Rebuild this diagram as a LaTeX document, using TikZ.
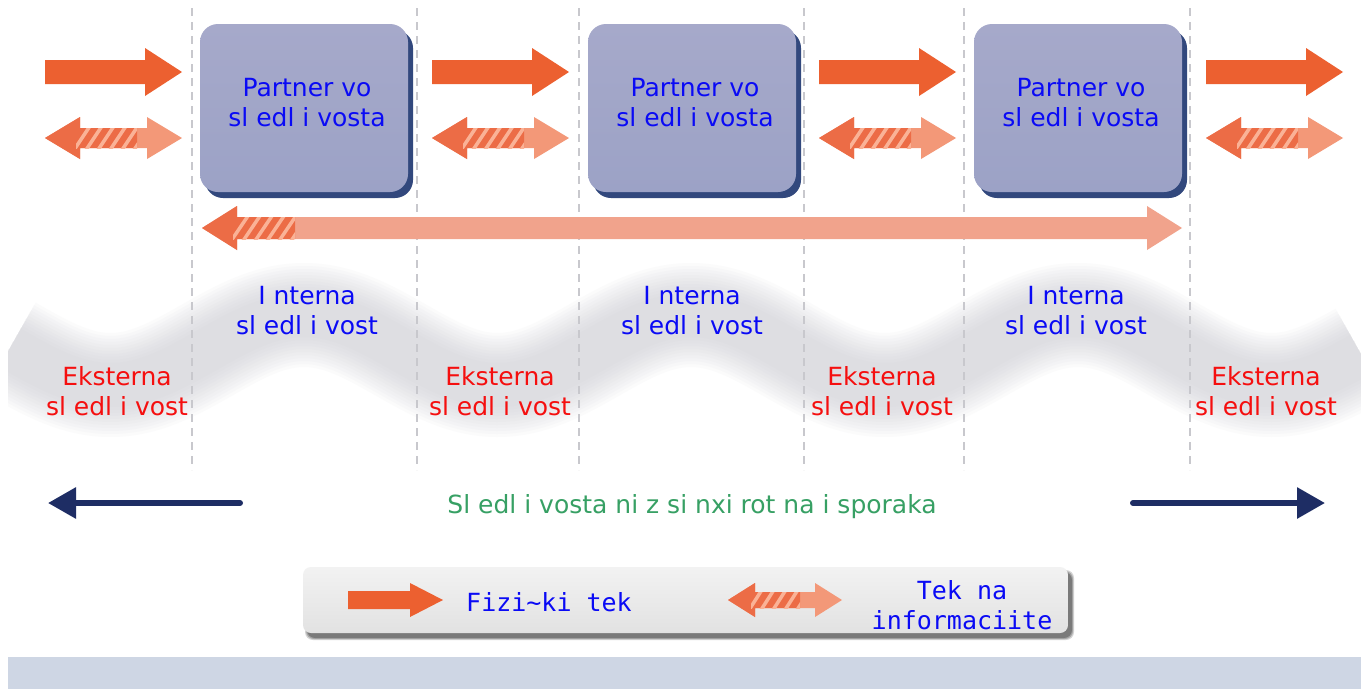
\documentclass[tikz,border=0pt]{standalone}
\usepackage{fontspec}
\setmainfont{DejaVu Sans}
\newfontfamily\legfont{DejaVu Sans Mono}
\usetikzlibrary{arrows.meta}
\definecolor{solidor}{RGB}{236,96,48}
\definecolor{infodark}{RGB}{236,108,70}
\definecolor{infolight}{RGB}{243,152,120}
\definecolor{longlight}{RGB}{241,163,140}
\definecolor{stripecol}{RGB}{250,178,150}
\definecolor{boxtop}{RGB}{166,169,202}
\definecolor{boxbot}{RGB}{156,162,198}
\definecolor{boxshadow}{RGB}{50,72,125}
\definecolor{bandcol}{RGB}{198,198,206}
\definecolor{divcol}{RGB}{200,200,205}
\definecolor{navyc}{RGB}{30,45,100}
\definecolor{txtblue}{RGB}{10,10,245}
\definecolor{txtred}{RGB}{245,15,15}
\definecolor{txtgreen}{RGB}{55,160,100}
\definecolor{legtop}{RGB}{242,242,242}
\definecolor{legbot}{RGB}{226,226,226}
\definecolor{legshadow}{RGB}{80,80,80}
\definecolor{bottomband}{RGB}{206,214,228}
% #1 x0, #2 x1, #3 yc, #4 shaft half, #5 head half, #6 head length
\newcommand\fatarrow[6]{%
  \fill[solidor] (#1,#3-#4) -- (#2-#6,#3-#4) -- (#2-#6,#3-#5) -- (#2,#3)
    -- (#2-#6,#3+#5) -- (#2-#6,#3+#4) -- (#1,#3+#4) -- cycle;}
% #1 x0, #2 x1, #3 yc, #4 shaft half, #5 head half, #6 head length, #7 split x, #8 light colour
\newcommand\infoarrow[8]{%
  \fill[#8] (#1,#3) -- (#1+#6,#3-#5) -- (#1+#6,#3-#4) -- (#2-#6,#3-#4) -- (#2-#6,#3-#5)
    -- (#2,#3) -- (#2-#6,#3+#5) -- (#2-#6,#3+#4) -- (#1+#6,#3+#4) -- (#1+#6,#3+#5) -- cycle;
  \fill[infodark] (#1,#3) -- (#1+#6,#3-#5) -- (#1+#6,#3-#4) -- (#7,#3-#4)
    -- (#7,#3+#4) -- (#1+#6,#3+#4) -- (#1+#6,#3+#5) -- cycle;
  \begin{scope}
    \clip (#1+#6-4,#3-#4) rectangle (#7,#3+#4);
    \foreach \s in {0,...,8} {
      \draw[stripecol, line width=3.5pt] (#1+#6-6+\s*12,#3+#4+2) -- (#1+#6-6+\s*12+1.6*#4,#3-#4-2);
    }
  \end{scope}}
\tikzset{
  divline/.style={divcol, line width=2pt, dash pattern=on 8pt off 6pt},
  partnerbox/.style={rounded corners=18pt, minimum width=208pt, minimum height=168pt,
    top color=boxtop, bottom color=boxbot, draw=none, inner sep=0pt},
  bluetext/.style={text=txtblue, align=center, font=\fontsize{25pt}{30pt}\selectfont, inner sep=0pt},
  redtext/.style={text=txtred, align=center, font=\fontsize{25pt}{30pt}\selectfont, inner sep=0pt},
  greentext/.style={text=txtgreen, font=\fontsize{25pt}{30pt}\selectfont, inner sep=0pt},
  legtext/.style={text=txtblue, align=center, font=\legfont\fontsize{25pt}{30pt}\selectfont, inner sep=0pt},
  navyarrow/.style={navyc, line width=6pt, line cap=round, -{Triangle[length=28pt,width=30pt]}},
  legendbox/.style={rounded corners=8pt, minimum width=765pt, minimum height=66pt,
    top color=legtop, bottom color=legbot, draw=none, inner sep=0pt}
}
\begin{document}
\begin{tikzpicture}[x=1pt,y=-1pt]
\useasboundingbox (0,0) rectangle (1361,689);
\fill[white] (0,0) rectangle (1361,689);

% wavy grey band (soft, blurred look)
\begin{scope}
  \clip (8,0) rectangle (1361,689);
  \foreach \w in {104,98,92,86,80,74,68,62,56,50,44} {
    \draw[bandcol, line width=\w pt, opacity=0.065]
      plot[domain=10:1361, samples=220, smooth] (\x,{350-35*cos((\x-304)/387*360)});
  }
\end{scope}

% dashed dividers
\foreach \xx in {192,417,579,804,964,1190} {
  \draw[divline] (\xx,8) -- (\xx,470);
}

% partner boxes
\foreach \c/\n in {304/p1,692/p2,1078/p3} {
  \fill[boxshadow, rounded corners=18pt] (\c-104+5,24+6) rectangle (\c+104+5,192+6);
  \node[partnerbox] (\n) at (\c,108) {};
  \node[bluetext] (\n t) at (\c+3,103) {Partner vo\\sl edl i vosta};
}

% top solid arrows and info arrows
\foreach \o in {0,387,774,1161} {
  \fatarrow{45+\o}{182+\o}{72}{12}{24}{37}
  \infoarrow{45+\o}{182+\o}{138}{10}{21}{35}{137+\o}{infolight}
}

% long info arrow
\infoarrow{202}{1182}{228}{11}{22}{35}{295}{longlight}

% internal / external labels
\foreach \c/\n in {307/i1,692/i2,1076/i3} {
  \node[bluetext] (\n) at (\c,311) {I nterna\\sl edl i vost};
}
\foreach \c/\n in {117/e1,500/e2,882/e3,1266/e4} {
  \node[redtext] (\n) at (\c,391) {Eksterna\\sl edl i vost};
}

% chain traceability
\node[greentext, anchor=base] (chain) at (692,513) {Sl edl i vosta ni z si nxi rot na i sporaka};
\coordinate (la1) at (240,503);
\coordinate (la2) at (48,503);
\coordinate (ra1) at (1133,503);
\coordinate (ra2) at (1325,503);
\draw[navyarrow] (la1) -- (la2);
\draw[navyarrow] (ra1) -- (ra2);

% legend
\foreach \k/\op in {0/0.25,1/0.35,2/0.5} {
  \fill[legshadow, rounded corners=8pt, opacity=\op] (305+\k,570+\k) rectangle (1074-\k,640-\k);
}
\node[legendbox] (leg) at (685.5,600) {};
\fatarrow{348}{443}{600}{9}{17}{33}
\infoarrow{728}{842}{600}{8}{17}{27}{800}{infolight}
\node[legtext, anchor=base west] (lt1) at (466,611) {Fizi\textasciitilde ki tek};
\node[legtext] (lt2) at (962,605) {Tek na\\informaciite};

% bottom band
\fill[bottomband] (8,657) rectangle (1361,689);
\end{tikzpicture}
\end{document}
